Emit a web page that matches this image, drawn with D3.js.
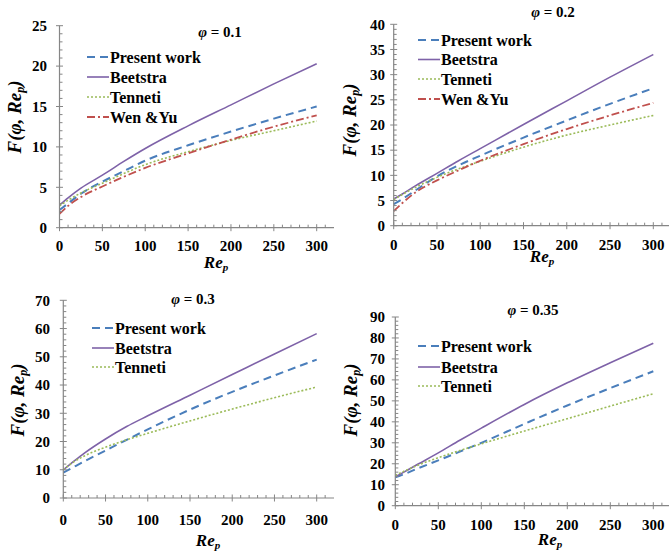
<!DOCTYPE html>
<html><head><meta charset="utf-8">
<script src="https://cdn.jsdelivr.net/npm/d3@7"></script>
<style>
body{margin:0;background:#fff;}
text{font-family:'Liberation Serif','DejaVu Serif',serif;}
</style></head><body>
<svg id="c" width="669" height="554"></svg>
<script>
// ---- data ----
const re = [0, 10, 25, 50, 75, 100, 150, 200, 250, 300];
const seriesNames = ["Present work", "Beetstra", "Tenneti", "Wen &Yu"];
const phiLabels = ["0.1", "0.2", "0.3", "0.35"];
// φ = 0.1
const present01 = [2.2, 3.0, 4.2, 5.7, 7.0, 8.3, 10.2, 11.9, 13.5, 15.0];
const beetstra01 = [2.8, 3.7, 4.9, 6.5, 8.2, 9.8, 12.6, 15.2, 17.8, 20.3];
const tenneti01 = [2.7, 3.4, 4.3, 5.5, 6.7, 7.8, 9.4, 10.8, 12.0, 13.2];
const wenyu01 = [1.7, 2.7, 3.8, 5.1, 6.3, 7.4, 9.2, 10.9, 12.5, 13.9];
// φ = 0.2
const present02 = [4.3, 5.3, 7.0, 9.8, 12.0, 13.9, 17.5, 20.9, 24.2, 27.3];
const beetstra02 = [5.3, 6.3, 7.9, 10.4, 12.9, 15.3, 20.1, 24.8, 29.5, 34.0];
const tenneti02 = [5.2, 6.2, 7.6, 9.6, 11.3, 12.8, 15.6, 18.0, 20.0, 21.9];
const wenyu02 = [2.9, 4.5, 6.6, 9.0, 11.0, 12.9, 16.2, 19.2, 21.9, 24.4];
// φ = 0.3
const present03 = [9.0, 10.6, 13.0, 16.8, 20.6, 24.3, 31.3, 37.6, 43.4, 49.0];
const beetstra03 = [10.0, 12.4, 15.9, 20.9, 25.3, 29.1, 36.4, 43.7, 51.0, 58.2];
const tenneti03 = [10.0, 12.3, 14.9, 18.0, 20.6, 22.9, 27.3, 31.5, 35.5, 39.3];
// φ = 0.35
const present035 = [13.5, 15.0, 17.6, 21.6, 25.8, 30.0, 39.0, 47.8, 56.1, 64.1];
const beetstra035 = [13.8, 16.0, 19.5, 25.2, 31.2, 37.0, 48.3, 58.6, 68.2, 77.5];
const tenneti035 = [14.5, 16.4, 19.1, 22.9, 26.3, 29.5, 35.6, 41.5, 47.5, 53.4];
// axes
const xTicks = [0, 50, 100, 150, 200, 250, 300];
const yMax = [25, 40, 70, 90];
const yStep = [5, 5, 10, 10];

// ---- styles ----
const FONT = "'Liberation Serif','DejaVu Serif',serif";
const styles = {
  "Present work": {color: "#4a7ebb", dash: "8,5", w: 2},
  "Beetstra": {color: "#7e62a8", dash: null, w: 1.6},
  "Tenneti": {color: "#9bbb59", dash: "2,2", w: 1.6},
  "Wen &Yu": {color: "#c0504d", dash: "8,3,2,3", w: 1.8}
};

const panels = [
  {data: [present01, beetstra01, tenneti01, wenyu01], x0: 59.5, x300: 316.7, y0: 227.7, yTop: 25.7, xEnd: 334,
   title: [220, 32], legX: 87, legRows: [57, 77, 97, 117], yTitle: [14, 117], xTitle: [216, 262], xLab: 251, yLabR: 47},
  {data: [present02, beetstra02, tenneti02, wenyu02], x0: 393.7, x300: 653.3, y0: 225.7, yTop: 24.3, xEnd: 669,
   title: [553, 12], legX: 418, legRows: [40, 59.5, 79, 99], yTitle: [349, 120], xTitle: [542, 256], xLab: 250, yLabR: 385},
  {data: [present03, beetstra03, tenneti03], x0: 63.3, x300: 316.7, y0: 498, yTop: 300.3, xEnd: 334,
   title: [193, 299], legX: 92, legRows: [328, 348, 367], yTitle: [17, 400], xTitle: [208, 540], xLab: 525, yLabR: 50},
  {data: [present035, beetstra035, tenneti035], x0: 395.3, x300: 653.3, y0: 505.7, yTop: 317, xEnd: 669,
   title: [533, 310], legX: 418, legRows: [346, 367, 386], yTitle: [350, 400], xTitle: [550, 539], xLab: 530, yLabR: 385}
];

const svg = d3.select("#c");
const axisColor = "#868686";

panels.forEach((p, i) => {
  const x = d3.scaleLinear().domain([0, 300]).range([p.x0, p.x300]);
  const y = d3.scaleLinear().domain([0, yMax[i]]).range([p.y0, p.yTop]);
  const g = svg.append("g").attr("font-family", FONT);

  // series lines
  const line = d3.line().x((d, k) => x(re[k])).y(d => y(d)).curve(d3.curveMonotoneX);
  p.data.forEach((arr, s) => {
    const st = styles[seriesNames[s]];
    g.append("path").datum(arr).attr("d", line)
      .attr("fill", "none").attr("stroke", st.color).attr("stroke-width", st.w)
      .attr("stroke-dasharray", st.dash);
  });

  // axes lines
  g.append("line").attr("x1", p.x0).attr("x2", p.x0).attr("y1", p.y0).attr("y2", y(yMax[i]))
    .attr("stroke", axisColor).attr("stroke-width", 1.2);
  g.append("line").attr("x1", p.x0).attr("x2", p.xEnd).attr("y1", p.y0).attr("y2", p.y0)
    .attr("stroke", axisColor).attr("stroke-width", 1.2);

  // x ticks
  const xMinor = d3.range(10, 320, 10).filter(v => v % 50 !== 0 && x(v) < p.xEnd - 1);
  g.selectAll(null).data(xMinor).enter().append("line")
    .attr("x1", d => x(d)).attr("x2", d => x(d)).attr("y1", p.y0).attr("y2", p.y0 - 3)
    .attr("stroke", axisColor);
  g.selectAll(null).data(xTicks).enter().append("line")
    .attr("x1", d => x(d)).attr("x2", d => x(d)).attr("y1", p.y0 - 3.5).attr("y2", p.y0 + 3.5)
    .attr("stroke", axisColor);
  g.selectAll(null).data(xTicks).enter().append("text")
    .attr("x", d => x(d)).attr("y", p.xLab).attr("text-anchor", "middle")
    .attr("font-size", 15).attr("font-weight", "bold").text(d => d);

  // y ticks
  const yMajor = d3.range(0, yMax[i] + 0.001, yStep[i]);
  const yMinorStep = yStep[i] / 5;
  const yMinor = d3.range(0, yMax[i] + 0.001, yMinorStep).filter(v => Math.abs(v / yStep[i] - Math.round(v / yStep[i])) > 1e-6);
  g.selectAll(null).data(yMinor).enter().append("line")
    .attr("x1", p.x0).attr("x2", p.x0 + 3).attr("y1", d => y(d)).attr("y2", d => y(d))
    .attr("stroke", axisColor);
  g.selectAll(null).data(yMajor).enter().append("line")
    .attr("x1", p.x0 - 3.5).attr("x2", p.x0 + 3.5).attr("y1", d => y(d)).attr("y2", d => y(d))
    .attr("stroke", axisColor);
  g.selectAll(null).data(yMajor).enter().append("text")
    .attr("x", p.yLabR).attr("y", d => y(d)).attr("dy", "0.35em").attr("text-anchor", "end")
    .attr("font-size", 15).attr("font-weight", "bold").text(d => d);

  // title φ = ...
  const t = g.append("text").attr("x", p.title[0]).attr("y", p.title[1]).attr("dy", "0.35em")
    .attr("text-anchor", "middle").attr("font-size", 15).attr("font-weight", "bold");
  t.append("tspan").attr("font-style", "italic").text("φ");
  t.append("tspan").text(" = " + phiLabels[i]);

  // x title Re_p
  const xt = g.append("text").attr("x", p.xTitle[0]).attr("y", p.xTitle[1]).attr("dy", "0.35em")
    .attr("text-anchor", "middle").attr("font-size", 17).attr("font-weight", "bold").attr("font-style", "italic");
  xt.append("tspan").text("Re");
  xt.append("tspan").attr("font-size", 11).attr("dy", "3").text("p");

  // y title F(φ, Re_p)
  const yt = g.append("text").attr("transform", `translate(${p.yTitle[0]},${p.yTitle[1]}) rotate(-90)`)
    .attr("dy", "0.35em").attr("text-anchor", "middle").attr("font-size", 19).attr("font-weight", "bold").attr("font-style", "italic");
  yt.append("tspan").text("F(φ, Re");
  yt.append("tspan").attr("font-size", 12).attr("dy", "3").text("p");
  yt.append("tspan").attr("dy", "-3").text(")");

  // legend
  p.data.forEach((arr, s) => {
    const st = styles[seriesNames[s]];
    const ly = p.legRows[s];
    g.append("line").attr("x1", p.legX).attr("x2", p.legX + 22).attr("y1", ly).attr("y2", ly)
      .attr("stroke", st.color).attr("stroke-width", st.w).attr("stroke-dasharray", st.dash);
    g.append("text").attr("x", p.legX + 23).attr("y", ly).attr("dy", "0.35em")
      .attr("font-size", 16).attr("font-weight", "bold").text(seriesNames[s]);
  });
});
</script>
</body></html>
